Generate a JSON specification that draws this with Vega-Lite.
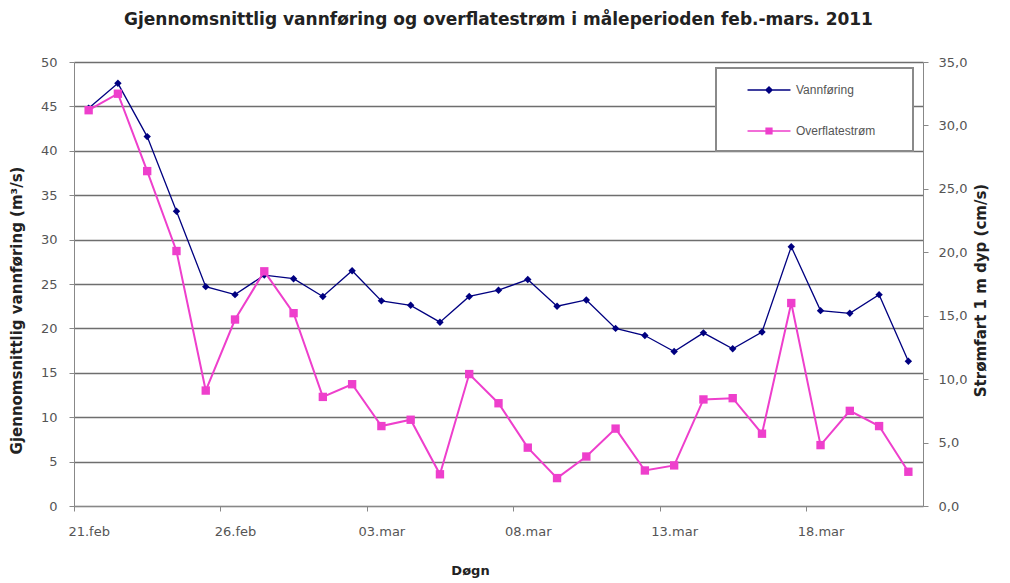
{
  "$schema": "https://vega.github.io/schema/vega-lite/v6.json",
  "width": 849,
  "height": 444,
  "autosize": {"type": "none"},
  "padding": {"left": 74, "top": 62, "right": 87, "bottom": 77},
  "background": "white",
  "title": {
    "text": "Gjennomsnittlig vannføring og overflatestrøm i måleperioden feb.-mars. 2011",
    "font": "DejaVu Sans",
    "fontSize": 17,
    "fontWeight": "bold",
    "color": "#222222",
    "anchor": "middle",
    "offset": 27
  },
  "config": {
    "view": {"stroke": null},
    "axis": {
      "labelFont": "DejaVu Sans",
      "labelFontSize": 13,
      "labelColor": "#555555",
      "titleFont": "DejaVu Sans",
      "titleFontSize": 15,
      "titleFontWeight": "bold",
      "titleColor": "#222222",
      "domainColor": "#888888",
      "tickColor": "#888888",
      "tickSize": 5
    }
  },
  "data": {
    "values": [
      {"date": "2011-02-21", "series": "Vannføring", "value": 44.8},
      {"date": "2011-02-22", "series": "Vannføring", "value": 47.6},
      {"date": "2011-02-23", "series": "Vannføring", "value": 41.6},
      {"date": "2011-02-24", "series": "Vannføring", "value": 33.2},
      {"date": "2011-02-25", "series": "Vannføring", "value": 24.7},
      {"date": "2011-02-26", "series": "Vannføring", "value": 23.8},
      {"date": "2011-02-27", "series": "Vannføring", "value": 26.0},
      {"date": "2011-02-28", "series": "Vannføring", "value": 25.6},
      {"date": "2011-03-01", "series": "Vannføring", "value": 23.6},
      {"date": "2011-03-02", "series": "Vannføring", "value": 26.5},
      {"date": "2011-03-03", "series": "Vannføring", "value": 23.1},
      {"date": "2011-03-04", "series": "Vannføring", "value": 22.6},
      {"date": "2011-03-05", "series": "Vannføring", "value": 20.7},
      {"date": "2011-03-06", "series": "Vannføring", "value": 23.6},
      {"date": "2011-03-07", "series": "Vannføring", "value": 24.3},
      {"date": "2011-03-08", "series": "Vannføring", "value": 25.5},
      {"date": "2011-03-09", "series": "Vannføring", "value": 22.5},
      {"date": "2011-03-10", "series": "Vannføring", "value": 23.2},
      {"date": "2011-03-11", "series": "Vannføring", "value": 20.0},
      {"date": "2011-03-12", "series": "Vannføring", "value": 19.2},
      {"date": "2011-03-13", "series": "Vannføring", "value": 17.4},
      {"date": "2011-03-14", "series": "Vannføring", "value": 19.5},
      {"date": "2011-03-15", "series": "Vannføring", "value": 17.7},
      {"date": "2011-03-16", "series": "Vannføring", "value": 19.6},
      {"date": "2011-03-17", "series": "Vannføring", "value": 29.2},
      {"date": "2011-03-18", "series": "Vannføring", "value": 22.0},
      {"date": "2011-03-19", "series": "Vannføring", "value": 21.7},
      {"date": "2011-03-20", "series": "Vannføring", "value": 23.8},
      {"date": "2011-03-21", "series": "Vannføring", "value": 16.3},
      {"date": "2011-02-21", "series": "Overflatestrøm", "value": 31.2},
      {"date": "2011-02-22", "series": "Overflatestrøm", "value": 32.5},
      {"date": "2011-02-23", "series": "Overflatestrøm", "value": 26.4},
      {"date": "2011-02-24", "series": "Overflatestrøm", "value": 20.1},
      {"date": "2011-02-25", "series": "Overflatestrøm", "value": 9.1},
      {"date": "2011-02-26", "series": "Overflatestrøm", "value": 14.7},
      {"date": "2011-02-27", "series": "Overflatestrøm", "value": 18.5},
      {"date": "2011-02-28", "series": "Overflatestrøm", "value": 15.2},
      {"date": "2011-03-01", "series": "Overflatestrøm", "value": 8.6},
      {"date": "2011-03-02", "series": "Overflatestrøm", "value": 9.6},
      {"date": "2011-03-03", "series": "Overflatestrøm", "value": 6.3},
      {"date": "2011-03-04", "series": "Overflatestrøm", "value": 6.8},
      {"date": "2011-03-05", "series": "Overflatestrøm", "value": 2.5},
      {"date": "2011-03-06", "series": "Overflatestrøm", "value": 10.4},
      {"date": "2011-03-07", "series": "Overflatestrøm", "value": 8.1},
      {"date": "2011-03-08", "series": "Overflatestrøm", "value": 4.6},
      {"date": "2011-03-09", "series": "Overflatestrøm", "value": 2.2},
      {"date": "2011-03-10", "series": "Overflatestrøm", "value": 3.9},
      {"date": "2011-03-11", "series": "Overflatestrøm", "value": 6.1},
      {"date": "2011-03-12", "series": "Overflatestrøm", "value": 2.8},
      {"date": "2011-03-13", "series": "Overflatestrøm", "value": 3.2},
      {"date": "2011-03-14", "series": "Overflatestrøm", "value": 8.4},
      {"date": "2011-03-15", "series": "Overflatestrøm", "value": 8.5},
      {"date": "2011-03-16", "series": "Overflatestrøm", "value": 5.7},
      {"date": "2011-03-17", "series": "Overflatestrøm", "value": 16.0},
      {"date": "2011-03-18", "series": "Overflatestrøm", "value": 4.8},
      {"date": "2011-03-19", "series": "Overflatestrøm", "value": 7.5},
      {"date": "2011-03-20", "series": "Overflatestrøm", "value": 6.3},
      {"date": "2011-03-21", "series": "Overflatestrøm", "value": 2.7}
    ],
    "format": {"parse": {"date": "utc:'%Y-%m-%d'"}}
  },
  "encoding": {
    "x": {
      "field": "date",
      "type": "temporal",
      "scale": {
        "type": "utc",
        "domain": [
          {"year": 2011, "month": 2, "date": 20, "hours": 12, "utc": true},
          {"year": 2011, "month": 3, "date": 21, "hours": 12, "utc": true}
        ]
      },
      "axis": {
        "title": "Døgn",
        "titleFontSize": 13,
        "titleX": 396,
        "grid": false,
        "values": [
          {"year": 2011, "month": 2, "date": 21, "utc": true},
          {"year": 2011, "month": 2, "date": 26, "utc": true},
          {"year": 2011, "month": 3, "date": 3, "utc": true},
          {"year": 2011, "month": 3, "date": 8, "utc": true},
          {"year": 2011, "month": 3, "date": 13, "utc": true},
          {"year": 2011, "month": 3, "date": 18, "utc": true}
        ],
        "labelExpr": "lower(utcFormat(datum.value, '%d.%b'))",
        "tickOffset": -14.6,
        "labelOffset": 14.6,
        "labelPadding": 14,
        "titlePadding": 26
      }
    },
    "color": {
      "field": "series",
      "type": "nominal",
      "scale": {"domain": ["Vannføring", "Overflatestrøm"], "range": ["#000080", "#EE3FCC"]},
      "legend": {
        "title": null,
        "orient": "none",
        "legendX": 642,
        "legendY": 6,
        "padding": 14,
        "fillColor": "white",
        "strokeColor": "#8a8a8a",
        "symbolType": "M-3,0H3",
        "symbolSize": 205,
        "symbolOffset": 31,
        "labelOffset": 19,
        "rowPadding": 26,
        "labelLimit": 300,
        "labelFont": "Liberation Sans",
        "labelFontSize": 12,
        "labelColor": "#555555",
        "labelExpr": "datum.label + '\u00a0\u00a0\u00a0\u00a0\u00a0\u00a0\u00a0\u200b'",
        "encode": {
          "legend": {"update": {"strokeWidth": {"value": 2}}},
          "symbols": {
            "update": {
              "shape": {"signal": "datum.value == 'Vannføring' ? 'M-3,0H3M0,-0.42L0.42,0L0,0.42L-0.42,0Z' : 'M-3,0H3M-0.4,-0.4H0.4V0.4H-0.4Z'"},
              "fill": {"signal": "datum.value == 'Vannføring' ? '#000080' : '#EE3FCC'"},
              "stroke": {"signal": "datum.value == 'Vannføring' ? '#000080' : '#EE3FCC'"},
              "strokeWidth": {"value": 1.5},
              "opacity": {"value": 1}
            }
          }
        }
      }
    }
  },
  "layer": [
    {
      "transform": [{"filter": "datum.series == 'Vannføring'"}],
      "mark": {
        "type": "line",
        "strokeWidth": 1.3,
        "point": {"shape": "diamond", "filled": true, "size": 55, "opacity": 1}
      },
      "encoding": {
        "y": {
          "field": "value",
          "type": "quantitative",
          "scale": {"domain": [0, 50], "nice": false},
          "axis": {
            "orient": "left",
            "title": "Gjennomsnittlig vannføring (m³/s)",
            "titleY": 248,
            "values": [0, 5, 10, 15, 20, 25, 30, 35, 40, 45, 50],
            "grid": true,
            "gridColor": "#6e6e6e",
            "gridWidth": 1.3,
            "labelPadding": 12,
            "titlePadding": 16
          }
        }
      }
    },
    {
      "transform": [{"filter": "datum.series == 'Overflatestrøm'"}],
      "mark": {
        "type": "line",
        "strokeWidth": 2,
        "point": {"shape": "square", "filled": true, "size": 70, "opacity": 1}
      },
      "encoding": {
        "y": {
          "field": "value",
          "type": "quantitative",
          "scale": {"domain": [0, 35], "nice": false},
          "axis": {
            "orient": "right",
            "title": "Strømfart 1 m dyp  (cm/s)",
            "titleAngle": 270,
            "titleY": 228,
            "values": [0, 5, 10, 15, 20, 25, 30, 35],
            "labelExpr": "replace(format(datum.value, '.1f'), '.', ',')",
            "grid": false,
            "labelPadding": 10,
            "titlePadding": 22
          }
        }
      }
    }
  ],
  "resolve": {"scale": {"y": "independent"}}
}
